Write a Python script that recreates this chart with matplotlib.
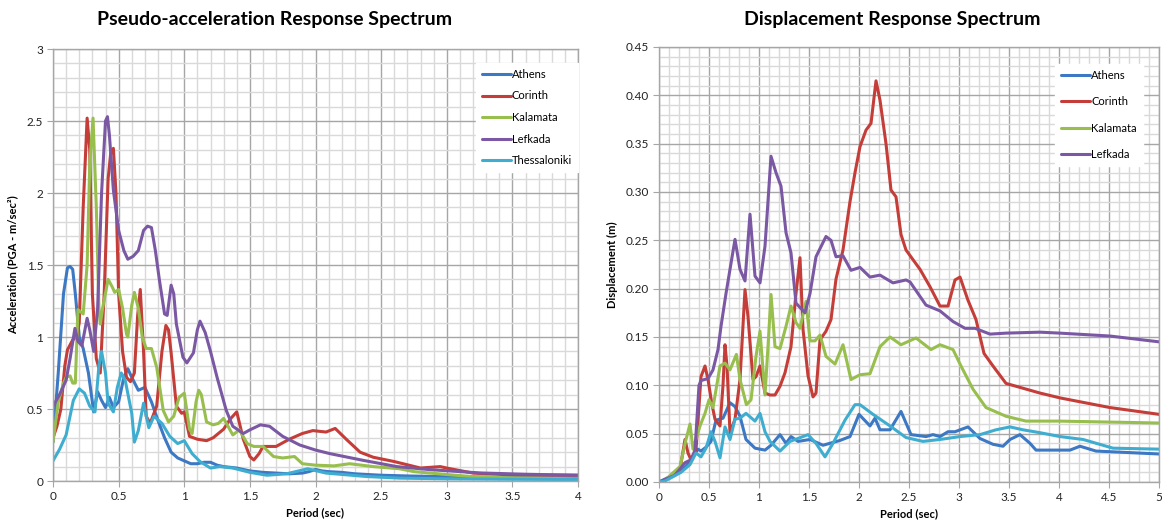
import matplotlib
matplotlib.use("Agg")
import matplotlib.pyplot as plt
from matplotlib.ticker import MultipleLocator, FormatStrFormatter

plt.rcParams["font.family"] = ["Lato", "DejaVu Sans"]

# ---- Pseudo-acceleration spectra: (period s, acceleration m/s^2) ----
athens_acc = [(0, 0.27), (0.04, 0.75), (0.08, 1.3), (0.11, 1.48), (0.13, 1.49), (0.15, 1.47),
              (0.17, 1.3), (0.2, 1.0), (0.23, 0.92), (0.27, 0.75), (0.31, 0.48), (0.34, 0.62),
              (0.37, 0.56), (0.4, 0.51), (0.43, 0.58), (0.46, 0.51), (0.5, 0.55), (0.54, 0.72),
              (0.57, 0.78), (0.6, 0.72), (0.65, 0.63), (0.7, 0.65), (0.75, 0.55), (0.8, 0.42),
              (0.85, 0.3), (0.9, 0.2), (0.95, 0.16), (1.0, 0.14), (1.05, 0.12), (1.1, 0.12),
              (1.15, 0.13), (1.2, 0.13), (1.25, 0.11), (1.3, 0.1), (1.4, 0.09), (1.5, 0.07),
              (1.6, 0.06), (1.7, 0.055), (1.8, 0.05), (1.9, 0.055), (1.95, 0.065), (2.0, 0.08),
              (2.05, 0.07), (2.1, 0.065), (2.2, 0.06), (2.3, 0.05), (2.4, 0.045), (2.5, 0.04),
              (2.7, 0.035), (3.0, 0.03), (3.5, 0.025), (4.0, 0.02)]
corinth_acc = [(0, 0.3), (0.03, 0.38), (0.06, 0.5), (0.09, 0.8), (0.11, 0.91), (0.15, 0.98),
               (0.18, 1.0), (0.2, 1.1), (0.23, 1.9), (0.26, 2.52), (0.28, 2.3), (0.3, 1.3),
               (0.33, 0.85), (0.36, 0.75), (0.39, 1.3), (0.42, 2.1), (0.44, 2.28), (0.46, 2.31),
               (0.48, 2.0), (0.5, 1.3), (0.53, 0.9), (0.56, 0.72), (0.59, 0.69), (0.62, 0.75),
               (0.645, 1.15), (0.665, 1.33), (0.69, 0.9), (0.71, 0.45), (0.74, 0.4), (0.79, 0.52),
               (0.83, 0.9), (0.86, 1.08), (0.88, 1.05), (0.9, 0.89), (0.94, 0.52), (0.98, 0.47),
               (1.0, 0.48), (1.04, 0.31), (1.1, 0.29), (1.17, 0.28), (1.22, 0.3), (1.3, 0.36),
               (1.35, 0.43), (1.4, 0.48), (1.45, 0.29), (1.5, 0.17), (1.53, 0.146), (1.57, 0.19),
               (1.6, 0.24), (1.7, 0.24), (1.8, 0.29), (1.9, 0.33), (1.98, 0.35), (2.08, 0.34),
               (2.15, 0.365), (2.24, 0.285), (2.34, 0.2), (2.44, 0.165), (2.6, 0.135), (2.8, 0.09),
               (2.95, 0.1), (3.0, 0.09), (3.2, 0.055), (3.5, 0.042), (4.0, 0.04)]
kalamata_acc = [(0, 0.27), (0.04, 0.55), (0.08, 0.68), (0.1, 0.72), (0.13, 0.73), (0.15, 0.68),
                (0.17, 0.68), (0.19, 1.19), (0.23, 1.16), (0.26, 1.5), (0.28, 2.2), (0.305, 2.52),
                (0.33, 1.9), (0.35, 1.2), (0.36, 1.09), (0.38, 1.21), (0.42, 1.4), (0.45, 1.35),
                (0.47, 1.31), (0.5, 1.33), (0.53, 1.2), (0.56, 1.02), (0.57, 1.0), (0.6, 1.22),
                (0.62, 1.31), (0.65, 1.2), (0.68, 1.0), (0.71, 0.92), (0.75, 0.92), (0.79, 0.79),
                (0.84, 0.49), (0.88, 0.41), (0.92, 0.45), (0.96, 0.58), (1.0, 0.61), (1.04, 0.36),
                (1.06, 0.33), (1.09, 0.55), (1.11, 0.63), (1.13, 0.6), (1.17, 0.41), (1.22, 0.39),
                (1.26, 0.4), (1.3, 0.435), (1.37, 0.32), (1.42, 0.355), (1.48, 0.26), (1.53, 0.24),
                (1.6, 0.24), (1.68, 0.17), (1.75, 0.16), (1.84, 0.17), (1.9, 0.12), (2.0, 0.11),
                (2.14, 0.105), (2.26, 0.12), (2.44, 0.1), (2.64, 0.085), (2.75, 0.065), (3.0, 0.045),
                (3.2, 0.03), (3.5, 0.022), (4.0, 0.015)]
lefkada_acc = [(0, 0.52), (0.05, 0.6), (0.1, 0.7), (0.13, 0.85), (0.167, 1.06), (0.19, 0.97),
               (0.22, 0.94), (0.26, 1.13), (0.28, 1.05), (0.31, 0.9), (0.34, 1.2), (0.37, 2.0),
               (0.4, 2.5), (0.415, 2.53), (0.43, 2.4), (0.46, 2.02), (0.5, 1.74), (0.54, 1.6),
               (0.57, 1.54), (0.61, 1.56), (0.65, 1.6), (0.69, 1.74), (0.72, 1.77), (0.75, 1.76),
               (0.78, 1.6), (0.81, 1.4), (0.85, 1.16), (0.87, 1.15), (0.9, 1.36), (0.92, 1.3),
               (0.94, 1.09), (0.99, 0.86), (1.02, 0.82), (1.07, 0.89), (1.1, 1.05), (1.12, 1.11),
               (1.16, 1.03), (1.2, 0.9), (1.25, 0.72), (1.32, 0.49), (1.37, 0.38), (1.45, 0.33),
               (1.5, 0.355), (1.58, 0.39), (1.65, 0.38), (1.75, 0.31), (1.88, 0.25), (2.0, 0.215),
               (2.11, 0.19), (2.36, 0.144), (2.62, 0.1), (2.87, 0.079), (3.25, 0.056), (3.6, 0.047),
               (4.0, 0.04)]
thessaloniki_acc = [(0, 0.14), (0.05, 0.22), (0.1, 0.32), (0.155, 0.56), (0.2, 0.64), (0.24, 0.61),
                    (0.28, 0.52), (0.32, 0.48), (0.35, 0.8), (0.37, 0.9), (0.4, 0.75), (0.42, 0.54),
                    (0.46, 0.48), (0.49, 0.65), (0.52, 0.75), (0.55, 0.7), (0.6, 0.47), (0.62, 0.27),
                    (0.65, 0.35), (0.69, 0.54), (0.73, 0.37), (0.77, 0.45), (0.83, 0.4), (0.89, 0.31),
                    (0.95, 0.26), (1.0, 0.28), (1.06, 0.19), (1.12, 0.135), (1.2, 0.09), (1.27, 0.1),
                    (1.37, 0.09), (1.5, 0.06), (1.63, 0.04), (1.78, 0.05), (1.94, 0.085), (2.08, 0.055),
                    (2.39, 0.031), (2.64, 0.02), (3.0, 0.015), (3.5, 0.012), (4.0, 0.01)]

# ---- Displacement spectra: (period s, displacement m) ----
athens_disp = [(0, 0), (0.14, 0.007), (0.24, 0.013), (0.3, 0.02), (0.39, 0.034), (0.42, 0.032),
               (0.47, 0.036), (0.52, 0.042), (0.57, 0.064), (0.64, 0.066), (0.71, 0.082), (0.76, 0.078),
               (0.81, 0.068), (0.87, 0.044), (0.96, 0.035), (1.06, 0.033), (1.12, 0.038), (1.21, 0.049),
               (1.27, 0.04), (1.32, 0.047), (1.39, 0.042), (1.51, 0.044), (1.64, 0.038), (1.81, 0.043),
               (1.91, 0.047), (2.0, 0.07), (2.11, 0.058), (2.16, 0.066), (2.21, 0.054), (2.31, 0.054),
               (2.42, 0.073), (2.52, 0.049), (2.67, 0.047), (2.74, 0.049), (2.81, 0.047), (2.89, 0.052),
               (2.96, 0.052), (3.09, 0.057), (3.21, 0.045), (3.34, 0.039), (3.44, 0.037), (3.51, 0.044),
               (3.61, 0.049), (3.71, 0.04), (3.77, 0.033), (4.11, 0.033), (4.21, 0.037), (4.37, 0.032),
               (5.0, 0.029)]
corinth_disp = [(0, 0), (0.06, 0.002), (0.21, 0.013), (0.26, 0.044), (0.29, 0.03), (0.32, 0.023),
                (0.37, 0.033), (0.42, 0.109), (0.46, 0.12), (0.49, 0.106), (0.53, 0.08), (0.56, 0.065),
                (0.61, 0.058), (0.64, 0.1), (0.66, 0.142), (0.68, 0.12), (0.71, 0.051), (0.76, 0.065),
                (0.81, 0.106), (0.86, 0.199), (0.89, 0.171), (0.94, 0.106), (0.97, 0.109), (1.01, 0.12),
                (1.06, 0.092), (1.11, 0.09), (1.16, 0.09), (1.21, 0.099), (1.26, 0.113), (1.32, 0.14),
                (1.37, 0.195), (1.41, 0.232), (1.44, 0.158), (1.49, 0.11), (1.54, 0.088), (1.57, 0.092),
                (1.61, 0.147), (1.67, 0.156), (1.72, 0.168), (1.77, 0.21), (1.84, 0.24), (1.91, 0.29),
                (1.96, 0.32), (2.01, 0.347), (2.07, 0.364), (2.12, 0.371), (2.17, 0.415), (2.21, 0.395),
                (2.27, 0.35), (2.32, 0.302), (2.37, 0.295), (2.42, 0.256), (2.47, 0.24), (2.61, 0.22),
                (2.71, 0.202), (2.81, 0.182), (2.89, 0.182), (2.96, 0.209), (3.01, 0.212), (3.09, 0.188),
                (3.17, 0.168), (3.25, 0.133), (3.34, 0.12), (3.47, 0.102), (3.81, 0.092), (4.01, 0.087),
                (4.51, 0.077), (5.0, 0.07)]
kalamata_disp = [(0, 0), (0.06, 0.002), (0.21, 0.016), (0.27, 0.044), (0.31, 0.06), (0.34, 0.034),
                 (0.41, 0.058), (0.46, 0.071), (0.5, 0.085), (0.54, 0.077), (0.61, 0.12), (0.66, 0.123),
                 (0.71, 0.116), (0.774, 0.132), (0.81, 0.106), (0.874, 0.08), (0.92, 0.085), (0.97, 0.13),
                 (1.01, 0.156), (1.06, 0.09), (1.09, 0.14), (1.12, 0.194), (1.16, 0.14), (1.21, 0.138),
                 (1.27, 0.161), (1.32, 0.182), (1.37, 0.165), (1.41, 0.159), (1.47, 0.187), (1.51, 0.146),
                 (1.56, 0.146), (1.61, 0.152), (1.67, 0.13), (1.76, 0.122), (1.84, 0.142), (1.92, 0.106),
                 (2.01, 0.111), (2.11, 0.112), (2.21, 0.14), (2.31, 0.15), (2.42, 0.142), (2.57, 0.149),
                 (2.72, 0.137), (2.81, 0.142), (2.94, 0.137), (3.02, 0.12), (3.14, 0.096), (3.27, 0.077),
                 (3.47, 0.068), (3.67, 0.063), (4.0, 0.063), (5.0, 0.061)]
lefkada_disp = [(0, 0), (0.16, 0.007), (0.26, 0.02), (0.32, 0.023), (0.36, 0.033), (0.4, 0.1),
                (0.42, 0.105), (0.49, 0.107), (0.54, 0.116), (0.59, 0.137), (0.62, 0.161), (0.67, 0.195),
                (0.71, 0.22), (0.76, 0.251), (0.81, 0.22), (0.86, 0.208), (0.91, 0.277), (0.96, 0.213),
                (1.01, 0.206), (1.06, 0.244), (1.12, 0.337), (1.17, 0.32), (1.22, 0.306), (1.27, 0.258),
                (1.32, 0.237), (1.37, 0.185), (1.46, 0.175), (1.51, 0.195), (1.57, 0.233), (1.67, 0.254),
                (1.72, 0.25), (1.77, 0.233), (1.84, 0.234), (1.92, 0.219), (2.01, 0.222), (2.11, 0.212),
                (2.21, 0.214), (2.34, 0.206), (2.47, 0.209), (2.51, 0.207), (2.67, 0.183), (2.81, 0.177),
                (2.94, 0.166), (3.06, 0.159), (3.16, 0.159), (3.31, 0.153), (3.47, 0.154), (3.81, 0.155),
                (4.01, 0.154), (4.51, 0.151), (5.0, 0.145)]
thessaloniki_disp = [(0, 0), (0.06, 0.001), (0.22, 0.01), (0.31, 0.018), (0.37, 0.03), (0.42, 0.026),
                     (0.47, 0.035), (0.52, 0.052), (0.56, 0.042), (0.61, 0.025), (0.66, 0.057), (0.71, 0.044),
                     (0.76, 0.065), (0.81, 0.066), (0.87, 0.071), (0.96, 0.063), (1.01, 0.071), (1.06, 0.052),
                     (1.11, 0.042), (1.21, 0.032), (1.31, 0.042), (1.44, 0.047), (1.49, 0.049), (1.57, 0.04),
                     (1.66, 0.026), (1.74, 0.04), (1.86, 0.064), (1.96, 0.08), (2.01, 0.08), (2.14, 0.07),
                     (2.31, 0.058), (2.47, 0.046), (2.64, 0.042), (2.81, 0.044), (3.01, 0.047), (3.21, 0.049),
                     (3.37, 0.054), (3.51, 0.057), (3.64, 0.054), (3.81, 0.051), (4.01, 0.047), (4.24, 0.044),
                     (4.54, 0.035), (5.0, 0.034)]

stations = ["Athens", "Corinth", "Kalamata", "Lefkada", "Thessaloniki"]
colors = ["#3C78C3", "#C43D38", "#98BE4E", "#7A58A3", "#3FADD0"]
acc_series = [athens_acc, corinth_acc, kalamata_acc, lefkada_acc, thessaloniki_acc]
disp_series = [athens_disp, corinth_disp, kalamata_disp, lefkada_disp, thessaloniki_disp]
disp_in_legend = [True, True, True, True, False]

W, H = 1162, 525
fig = plt.figure(figsize=(W / 100, H / 100), dpi=100)
fig.patch.set_facecolor("white")

ax1 = fig.add_axes([53 / W, 1 - 481 / H, (578 - 53) / W, (481 - 49) / H])
ax2 = fig.add_axes([659 / W, 1 - 482 / H, (1159 - 659) / W, (482 - 47) / H])


def style_axes(ax, xmax, xmaj, xmin, ymax, ymaj, ymin, yfmt):
    ax.set_xlim(0, xmax)
    ax.set_ylim(0, ymax)
    ax.xaxis.set_major_locator(MultipleLocator(xmaj))
    ax.xaxis.set_minor_locator(MultipleLocator(xmin))
    ax.yaxis.set_major_locator(MultipleLocator(ymaj))
    ax.yaxis.set_minor_locator(MultipleLocator(ymin))
    ax.yaxis.set_major_formatter(FormatStrFormatter(yfmt))
    ax.xaxis.set_major_formatter(FormatStrFormatter("%g"))
    ax.grid(True, which="minor", color="#D9D9D9", lw=1.0)
    ax.grid(True, which="major", color="#A6A6A6", lw=1.0)
    ax.set_axisbelow(True)
    for s in ax.spines.values():
        s.set_color("#A6A6A6")
        s.set_linewidth(1.0)
    ax.tick_params(which="major", length=4, color="#A6A6A6", labelsize=8.5, labelcolor="#222222", pad=3)
    ax.tick_params(which="minor", length=0)


style_axes(ax1, 4, 0.5, 0.1, 3, 0.5, 0.1, "%g")
style_axes(ax2, 5, 0.5, 0.1, 0.45, 0.05, 0.01, "%.2f")

for name, col, pts in zip(stations, colors, acc_series):
    ax1.plot([p[0] for p in pts], [p[1] for p in pts], color=col, lw=2.2,
             solid_joinstyle="round", solid_capstyle="round", label=name)

for name, col, pts, inleg in zip(stations, colors, disp_series, disp_in_legend):
    ax2.plot([p[0] for p in pts], [p[1] for p in pts], color=col, lw=2.2,
             solid_joinstyle="round", solid_capstyle="round",
             label=name if inleg else "_nolegend_")

fig.text(275 / W, 1 - 20 / H, "Pseudo-acceleration Response Spectrum", ha="center", va="center",
         fontsize=14, fontweight="bold")
fig.text(892 / W, 1 - 20 / H, "Displacement Response Spectrum", ha="center", va="center",
         fontsize=14, fontweight="bold")

for ax in (ax1, ax2):
    ax.set_xlabel("Period (sec)", fontsize=8, fontweight="bold", labelpad=4)
ax1.set_ylabel("Acceleration (PGA - m/sec²)", fontsize=8, fontweight="bold", labelpad=6)
ax2.set_ylabel("Displacement (m)", fontsize=8, fontweight="bold", labelpad=6)

leg_kw = dict(loc="upper right", fontsize=8, frameon=True, fancybox=False, framealpha=1,
              edgecolor="white", handlelength=2.6, handletextpad=0.1, borderpad=0.55,
              borderaxespad=0)
leg1 = ax1.legend(bbox_to_anchor=(1.0, 0.968), labelspacing=0.95, **leg_kw)
leg2 = ax2.legend(bbox_to_anchor=(0.968, 0.962), labelspacing=1.4, **leg_kw)

fig.savefig("out.png", dpi=100)
